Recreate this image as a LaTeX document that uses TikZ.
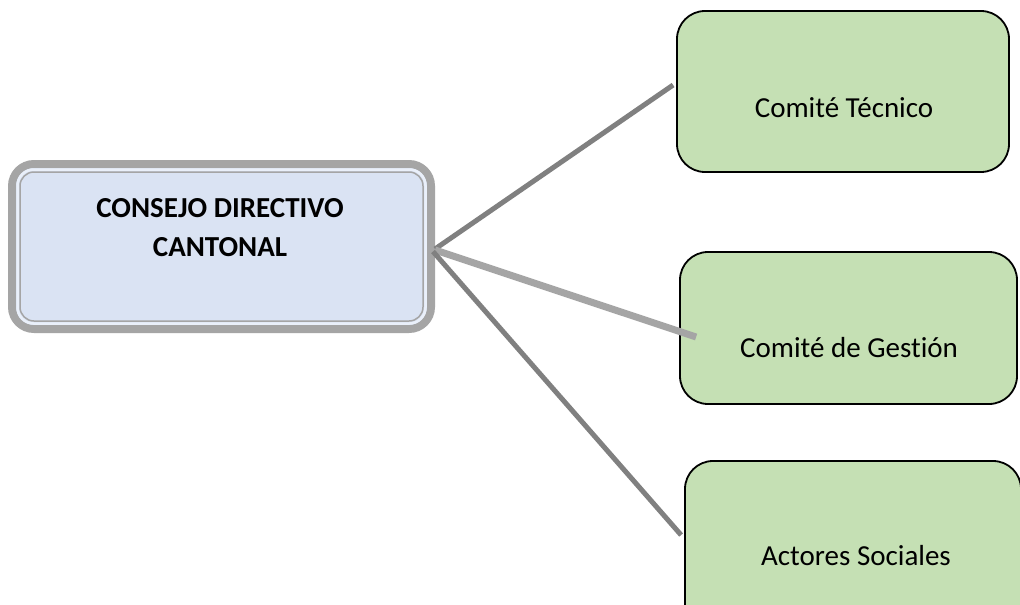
\documentclass[tikz,border=0pt]{standalone}
\usepackage{fontspec}
\setmainfont{Carlito}[Ligatures=NoCommon]
\definecolor{cdcblue}{HTML}{DAE3F3}
\definecolor{cdcband}{HTML}{EAF0FA}
\definecolor{comgreen}{HTML}{C5E0B4}
\definecolor{linedark}{HTML}{808080}
\definecolor{linelight}{HTML}{A5A5A5}
\begin{document}
\begin{tikzpicture}[x=1pt,y=-1pt,
    cdcbox/.style={draw=linelight,line width=8pt,fill=cdcblue,rounded corners=22pt,inner sep=0,minimum width=419pt,minimum height=165pt},
    combox/.style={draw=black,line width=1.8pt,fill=comgreen,rounded corners=28pt,inner sep=0},
    boxtext/.style={inner sep=0,font=\fontsize{29}{40}\selectfont},
    darkline/.style={draw=linedark,line width=5pt},
    lightline/.style={draw=linelight,line width=7pt}]
      \clip (0,0) rectangle (1020,605);
      \fill[white] (0,0) rectangle (1020,605);
      \node[cdcbox] (cdc) at (221.5,246.5) {};
      \draw[cdcband,line width=2.5pt,rounded corners=16pt] ([shift={(9.5pt,-9.5pt)}]cdc.north west) rectangle ([shift={(-9.5pt,9.5pt)}]cdc.south east);
      \draw[linelight,line width=1.5pt,rounded corners=14pt] ([shift={(12pt,-12pt)}]cdc.north west) rectangle ([shift={(-12pt,12pt)}]cdc.south east);
      \node[boxtext,anchor=north,align=center,font=\fontsize{29}{39}\selectfont\bfseries] (cdctxt) at (220,198) {CONSEJO DIRECTIVO\\CANTONAL};
      \node[combox,minimum width=332pt,minimum height=161pt] (tec) at (843,91.5) {};
      \node[combox,minimum width=337pt,minimum height=152pt] (ges) at (848.5,328) {};
      \node[combox,minimum width=336pt,minimum height=188pt] (act) at (853,555) {};
      \node[boxtext,anchor=base] (tectxt) at (844,117) {Comité Técnico};
      \node[boxtext,anchor=base] (gestxt) at (849,357) {Comité de Gestión};
      \node[boxtext,anchor=base] (acttxt) at (856,565) {Actores Sociales};
      \draw[darkline] ([yshift=-2.5pt]cdc.east) -- ([shift={(-3pt,6.5pt)}]tec.west);
      \draw[lightline] ([yshift=-3.5pt]cdc.east) -- ([shift={(17pt,-9pt)}]ges.west);
      \draw[darkline] ([shift={(-2pt,-5pt)}]cdc.east) -- ([shift={(-3pt,20pt)}]act.west);
\end{tikzpicture}
\end{document}
